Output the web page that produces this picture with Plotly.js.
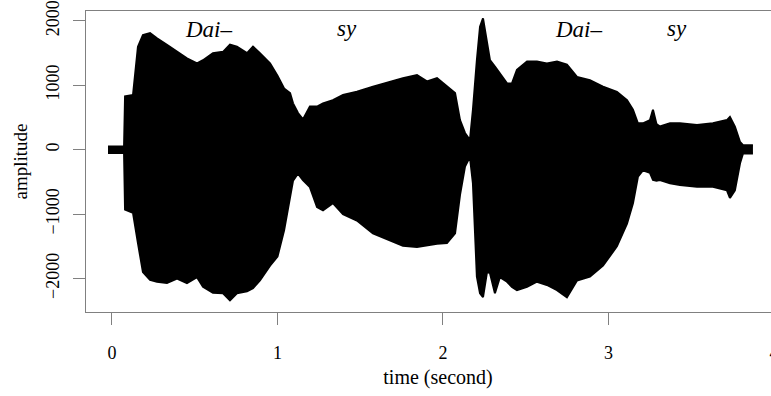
<!DOCTYPE html>
<html>
<head>
<meta charset="utf-8">
<script src="https://cdn.plot.ly/plotly-3.0.1.min.js"></script>
<style>
  html, body { margin: 0; padding: 0; background: #fff; overflow: hidden; width: 771px; height: 396px; }
  #chart { width: 800px; height: 396px; }
</style>
</head>
<body>
<div id="chart"></div>
<script>
const timeSec = [-0.024, 0.073, 0.079, 0.127, 0.157, 0.187, 0.230, 0.272, 0.332, 0.393, 0.453, 0.514, 0.550, 0.610, 0.671, 0.713, 0.755, 0.816, 0.852, 0.894, 0.955, 1.000, 1.040, 1.076, 1.094, 1.124, 1.154, 1.196, 1.239, 1.275, 1.335, 1.396, 1.480, 1.577, 1.680, 1.758, 1.843, 1.903, 1.964, 2.024, 2.073, 2.103, 2.133, 2.163, 2.181, 2.205, 2.224, 2.242, 2.266, 2.284, 2.314, 2.344, 2.387, 2.417, 2.447, 2.508, 2.568, 2.628, 2.689, 2.749, 2.810, 2.888, 2.967, 3.051, 3.112, 3.148, 3.178, 3.208, 3.251, 3.269, 3.290, 3.311, 3.372, 3.432, 3.535, 3.631, 3.716, 3.734, 3.764, 3.795, 3.813, 3.873];
const upperAmp = [50, 50, 830, 850, 1600, 1780, 1810, 1730, 1630, 1520, 1420, 1340, 1390, 1500, 1520, 1630, 1600, 1500, 1600, 1500, 1340, 1150, 950, 880, 720, 570, 470, 670, 670, 720, 770, 850, 900, 980, 1060, 1110, 1160, 1060, 1110, 980, 880, 460, 260, 150, 620, 1390, 1910, 2040, 1650, 1390, 1290, 1190, 1030, 1030, 1240, 1370, 1370, 1340, 1370, 1320, 1130, 1080, 980, 900, 770, 620, 410, 410, 460, 620, 400, 360, 410, 410, 385, 410, 460, 510, 360, 120, 70, 70];
const lowerAmp = [-50, -50, -930, -980, -1450, -1900, -2020, -2050, -2070, -2000, -2070, -1980, -2130, -2220, -2230, -2340, -2230, -2200, -2150, -2030, -1800, -1660, -1250, -700, -480, -370, -470, -580, -890, -940, -830, -1000, -1100, -1300, -1410, -1490, -1510, -1480, -1460, -1450, -1300, -700, -260, -110, -520, -1970, -2230, -2290, -1900, -1915, -2230, -1980, -2050, -2130, -2180, -2130, -2050, -2100, -2180, -2290, -2030, -1970, -1800, -1500, -1150, -830, -420, -320, -360, -470, -480, -470, -520, -550, -575, -575, -630, -750, -630, -210, -60, -60];

// Syllable labels
const syllables = ["Dai\u2013", "sy", "Dai\u2013", "sy"];
const syllableTime = [0.586, 1.42, 2.82, 3.414];
const syllableAmp = [1860, 1880, 1860, 1880];

const xTicks = [0, 1, 2, 3, 4];
const yTicks = [-2000, -1000, 0, 1000, 2000];

const serif = "Liberation Serif, Times New Roman, serif";

const traces = [
  {
    x: timeSec, y: lowerAmp, type: "scatter", mode: "lines",
    line: { color: "#000", width: 2 }, hoverinfo: "skip", showlegend: false
  },
  {
    x: timeSec, y: upperAmp, type: "scatter", mode: "lines",
    fill: "tonexty", fillcolor: "#000",
    line: { color: "#000", width: 2 }, hoverinfo: "skip", showlegend: false
  }
];

const annotations = syllables.map((s, i) => ({
  x: syllableTime[i], y: syllableAmp[i], xref: "x", yref: "y",
  text: s, showarrow: false,
  font: { family: serif, size: 23, style: "italic", color: "#000" }
}));

const axisCommon = {
  showgrid: false, zeroline: false,
  showline: true, mirror: true, linecolor: "#808080", linewidth: 1,
  ticks: "outside", ticklen: 12, tickcolor: "#808080", tickwidth: 1,
  tickfont: { family: serif, size: 18, color: "#000" }
};

const layout = {
  width: 800, height: 396,
  margin: { l: 86, r: 10, t: 11, b: 84 },
  paper_bgcolor: "#fff", plot_bgcolor: "#fff",
  xaxis: Object.assign({}, axisCommon, {
    range: [-0.157, 4.097],
    tickvals: xTicks,
    ticklabelstandoff: 12,
    title: { text: "time (second)", font: { family: serif, size: 20, color: "#000" }, standoff: 8 }
  }),
  yaxis: Object.assign({}, axisCommon, {
    range: [-2520, 2154],
    tickvals: yTicks,
    tickangle: -90,
    ticklabelstandoff: 7,
    title: { text: "amplitude", font: { family: serif, size: 19, color: "#000" }, standoff: 10 }
  }),
  annotations: annotations,
  showlegend: false
};

Plotly.newPlot("chart", traces, layout, { displayModeBar: false, staticPlot: true });
</script>
</body>
</html>
